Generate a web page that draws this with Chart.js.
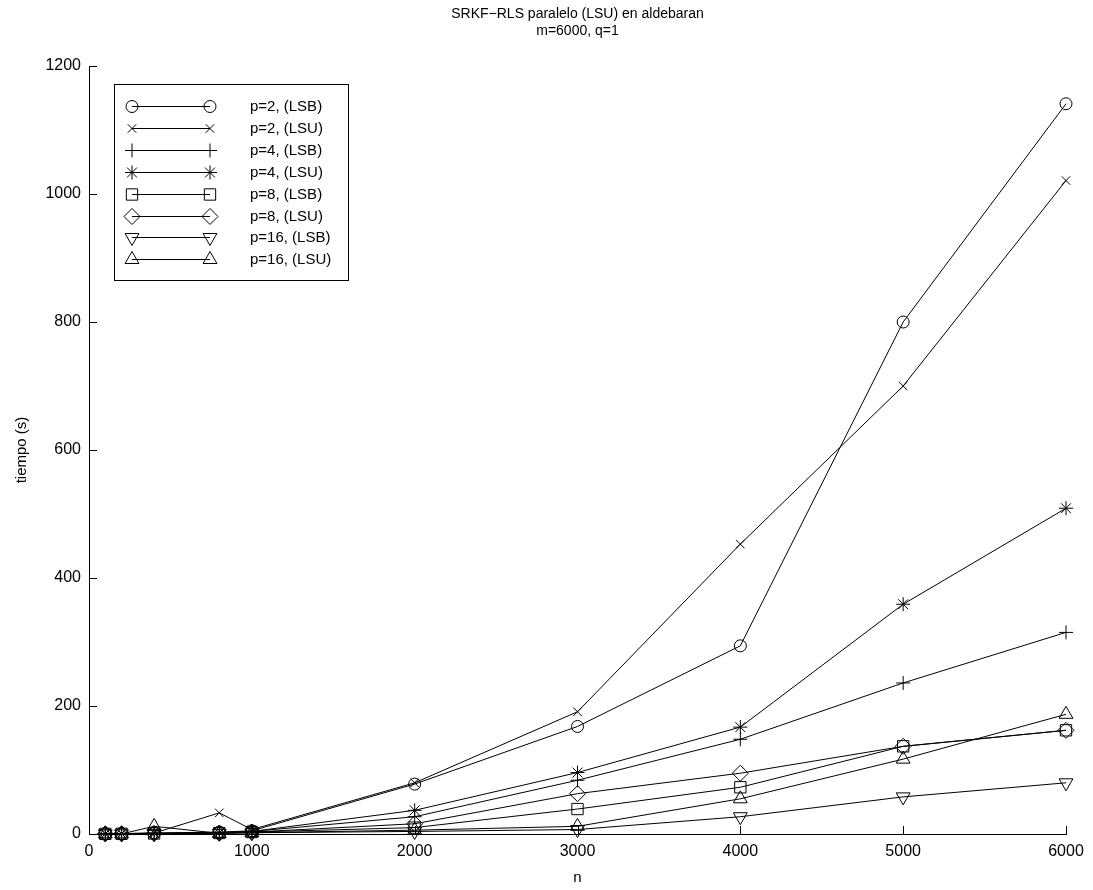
<!DOCTYPE html>
<html>
<head>
<meta charset="utf-8">
<title>SRKF-RLS paralelo (LSU) en aldebaran</title>
<script src="https://cdn.jsdelivr.net/npm/chart.js@4/dist/chart.umd.min.js"></script>
<style>
    html, body { margin: 0; padding: 0; background: #fff; }
    #wrap { width: 1093px; height: 890px; }
</style>
</head>
<body>
<div id="wrap"><canvas id="chart"></canvas></div>
<script>
// problem sizes n
const nValues = [100, 200, 400, 800, 1000, 2000, 3000, 4000, 5000, 6000];

// execution times (s) for each number of processors and variant
const p2LSB = [0.3, 0.6, 1.5, 3, 5, 78, 168, 294, 800, 1141];
const p2LSU = [0.3, 0.6, 1.5, 33, 7, 80, 191, 453, 700, 1021];
const p4LSB = [0.2, 0.4, 1, 2, 4, 27, 84, 148, 236, 315];
const p4LSU = [0.2, 0.4, 1, 2, 4, 37, 96, 167, 359, 509];
const p8LSB = [0.2, 0.3, 0.8, 1.5, 3, 10, 39, 73, 137, 162];
const p8LSU = [0.2, 0.3, 0.8, 1.5, 3, 16, 63, 95, 137, 162];
const p16LSB = [0.1, 0.2, 0.5, 1, 2, 4, 7, 27, 58, 80];
const p16LSU = [0.1, 0.2, 12, 1, 2, 6, 12, 55, 117, 187];

const seriesLabels = ['p=2, (LSB)', 'p=2, (LSU)', 'p=4, (LSB)', 'p=4, (LSU)',
    'p=8, (LSB)', 'p=8, (LSU)', 'p=16, (LSB)', 'p=16, (LSU)'];
const titleLines = ['SRKF\u2212RLS paralelo (LSU) en aldebaran', 'm=6000, q=1'];

const FONT = '"Liberation Sans", Arial, Helvetica, sans-serif';

// marker for every series: [pointStyle, radius, rotation]
const markers = [
    ['circle', 6, 0],
    ['crossRot', 6, 0],
    ['cross', 7, 0],
    ['star', 7, 0],
    ['rect', 8, 0],
    ['rectRot', 8, 0],
    ['triangle', 8, 180],
    ['triangle', 8, 0]
];

function makeDataset(label, values, marker) {
    return {
        label: label,
        data: values.map((v, i) => ({ x: nValues[i], y: v })),
        borderColor: '#000',
        borderWidth: 1,
        backgroundColor: 'rgba(0,0,0,0)',
        pointStyle: marker[0],
        pointRadius: marker[1],
        pointRotation: marker[2],
        pointBorderColor: '#000',
        pointBackgroundColor: 'rgba(0,0,0,0)',
        pointBorderWidth: 1,
        tension: 0,
        clip: false
    };
}

const allSeries = [p2LSB, p2LSU, p4LSB, p4LSU, p8LSB, p8LSU, p16LSB, p16LSU];
let datasets = [];
for (let i = 0; i < allSeries.length; i++)
    datasets.push(makeDataset(seriesLabels[i], allSeries[i], markers[i]));

// two-line title centred over the plot area
const titlePlugin = {
    id: 'plotTitle',
    afterDraw(chart) {
        const ctx = chart.ctx;
        const a = chart.chartArea;
        const cx = (a.left + a.right) / 2;
        ctx.save();
        ctx.fillStyle = '#000';
        ctx.font = '14px ' + FONT;
        ctx.textAlign = 'center';
        ctx.textBaseline = 'middle';
        ctx.fillText(titleLines[0], cx, 14);
        ctx.fillText(titleLines[1], cx, 31);
        ctx.restore();
    }
};

// tick marks pointing into the plot
const innerTicks = {
    id: 'innerTicks',
    afterDraw(chart) {
        const ctx = chart.ctx;
        const a = chart.chartArea;
        const xs = chart.scales.x;
        const ys = chart.scales.y;
        const len = 8;
        ctx.save();
        ctx.strokeStyle = '#000';
        ctx.lineWidth = 1;
        ctx.beginPath();
        xs.ticks.forEach(t => {
            const px = Math.round(xs.getPixelForValue(t.value)) + 0.5;
            ctx.moveTo(px, a.bottom);
            ctx.lineTo(px, a.bottom - len);
        });
        ys.ticks.forEach(t => {
            const py = Math.round(ys.getPixelForValue(t.value)) + 0.5;
            ctx.moveTo(a.left, py);
            ctx.lineTo(a.left + len, py);
        });
        ctx.stroke();
        ctx.restore();
    }
};

// boxed legend: line sample with a marker at each end, text on the right
const boxLegend = {
    id: 'boxLegend',
    afterDraw(chart) {
        const ctx = chart.ctx;
        const left = 114.5, top = 84.5, w = 234, h = 196;
        const rowH = 21.9;
        ctx.save();
        ctx.fillStyle = '#fff';
        ctx.fillRect(left, top, w, h);
        ctx.strokeStyle = '#000';
        ctx.lineWidth = 1;
        ctx.strokeRect(left, top, w, h);
        ctx.font = '15px ' + FONT;
        ctx.textAlign = 'left';
        ctx.textBaseline = 'middle';
        chart.data.datasets.forEach((ds, i) => {
            const y = Math.round(106 + i * rowH) + 0.5;
            ctx.strokeStyle = '#000';
            ctx.beginPath();
            ctx.moveTo(132, y);
            ctx.lineTo(210, y);
            ctx.stroke();
            const opts = { pointStyle: ds.pointStyle, radius: ds.pointRadius,
                rotation: ds.pointRotation, borderWidth: 1 };
            ctx.fillStyle = 'rgba(0,0,0,0)';
            Chart.helpers.drawPoint(ctx, opts, 132, y);
            Chart.helpers.drawPoint(ctx, opts, 210, y);
            ctx.fillStyle = '#000';
            ctx.fillText(ds.label, 250, y);
        });
        ctx.restore();
    }
};

new Chart(document.getElementById('chart'), {
    type: 'line',
    data: { datasets: datasets },
    plugins: [titlePlugin, innerTicks, boxLegend],
    options: {
        responsive: true,
        maintainAspectRatio: false,
        animation: false,
        layout: { padding: { top: 66, right: 27, left: 0, bottom: 0 } },
        plugins: {
            legend: { display: false },
            tooltip: { enabled: false },
            title: { display: false }
        },
        scales: {
            x: {
                type: 'linear',
                min: 0,
                max: 6000,
                ticks: { stepSize: 1000, color: '#000', padding: 8, maxRotation: 0,
                    callback: v => String(v),
                    font: { family: FONT, size: 16 } },
                grid: { display: true, drawOnChartArea: false, drawTicks: false },
                border: { display: true, color: '#000', width: 1 },
                title: { display: true, text: 'n', color: '#000', padding: { top: 0, bottom: 3 },
                    font: { family: FONT, size: 15 } },
                afterFit: scale => { scale.height = 56; }
            },
            y: {
                type: 'linear',
                min: 0,
                max: 1200,
                ticks: { stepSize: 200, color: '#000', padding: 8,
                    callback: v => String(v),
                    font: { family: FONT, size: 16 } },
                grid: { display: true, drawOnChartArea: false, drawTicks: false },
                border: { display: true, color: '#000', width: 1 },
                title: { display: true, text: 'tiempo (s)', color: '#000', padding: { top: 13, bottom: 0 },
                    font: { family: FONT, size: 15 } },
                afterFit: scale => { scale.width = 89; }
            }
        }
    }
});
</script>
</body>
</html>
